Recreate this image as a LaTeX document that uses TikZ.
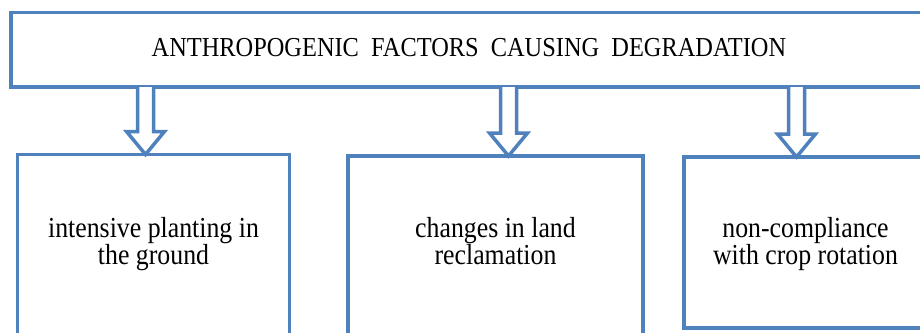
\documentclass[tikz,border=0pt]{standalone}
\usepackage{fontspec}
\setmainfont{Liberation Serif}[FakeStretch=0.89]
\usetikzlibrary{calc}
\definecolor{boxblue}{HTML}{4F81BD}
\tikzset{
  box/.style={draw=boxblue, line width=3.5pt, outer sep=0pt, inner sep=0pt, rectangle, anchor=north west},
  arr/.style={draw=boxblue, line width=3.5pt, fill=white, line join=miter},
  title/.style={font=\fontsize{27.4}{30}\selectfont, inner sep=0pt, anchor=base},
  lbl/.style={font=\fontsize{29}{27}\selectfont, align=center, inner sep=0pt, anchor=base},
}
\newcommand\blockarr[3]{%
  \draw[arr] ($(#1 |- #2.south)+(-8,0)$) -- ($(#1 |- #3.north)+(-8,-23)$)
    -- ($(#1 |- #3.north)+(-19,-23)$) -- (#1 |- #3.north)
    -- ($(#1 |- #3.north)+(19,-23)$) -- ($(#1 |- #3.north)+(8,-23)$)
    -- ($(#1 |- #2.south)+(8,0)$);}
\begin{document}
\begin{tikzpicture}[x=1pt,y=-1pt]
\useasboundingbox (0,0) rectangle (920,332);
\clip (0,0) rectangle (920,332);
\node[box, minimum width=917pt, minimum height=74.5pt] (top) at (11,12.5) {};
\node[title] (tt) at (469,56) {ANTHROPOGENIC\ \ FACTORS\ \ CAUSING\ \ DEGRADATION};
\node[box, minimum width=272pt, minimum height=180.5pt] (b1) at (17.5,154.5) {};
\node[box, minimum width=295pt, minimum height=179pt] (b2) at (348,156) {};
\node[box, minimum width=243pt, minimum height=171pt] (b3) at (684,157) {};
\coordinate (a1) at (145.5,0);
\coordinate (a2) at (508.5,0);
\coordinate (a3) at (796.5,0);
\coordinate (bl) at (0,264);
\blockarr{a1}{top}{b1}
\blockarr{a2}{top}{b2}
\blockarr{a3}{top}{b3}
\node[lbl] (t1) at (b1.center |- bl) {intensive planting in\\the ground};
\node[lbl] (t2) at (b2.center |- bl) {changes in land\\reclamation};
\node[lbl] (t3) at (805.5,264) {non-compliance\\with crop rotation};
\end{tikzpicture}
\end{document}
